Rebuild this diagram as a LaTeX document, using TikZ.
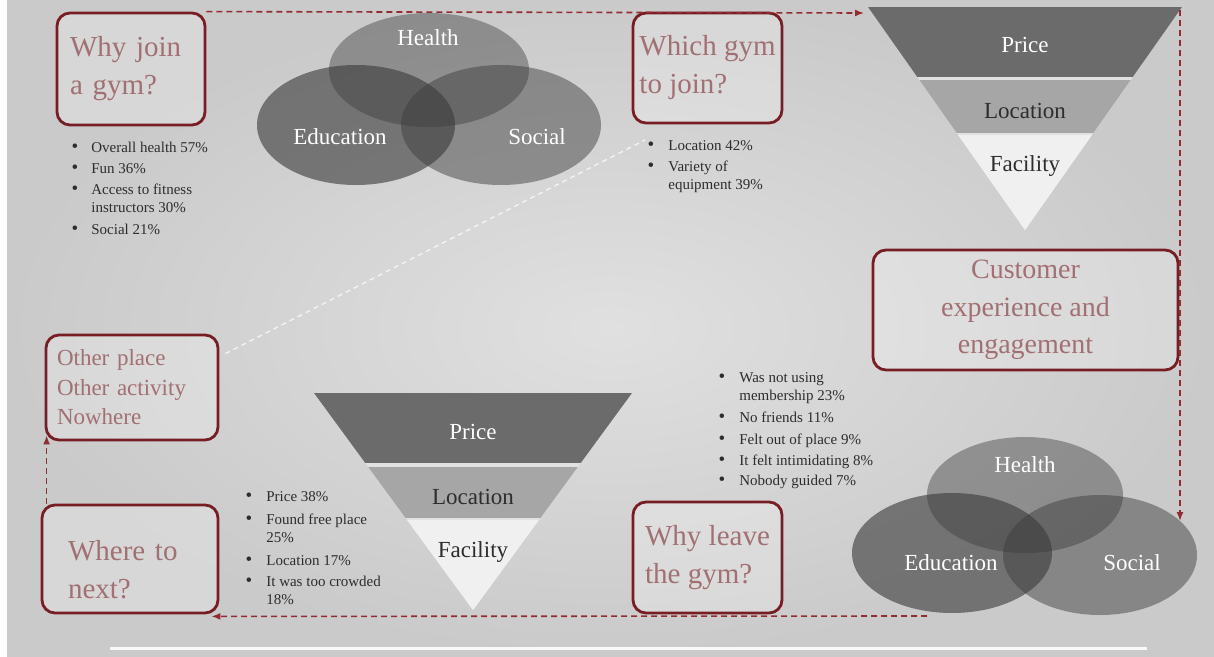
\documentclass[tikz,border=0pt]{standalone}
\usepackage{fontspec}
\setmainfont{Liberation Serif}
\usetikzlibrary{arrows.meta,calc}
\definecolor{boxred}{RGB}{118,30,36}
\definecolor{titlecol}{RGB}{162,112,114}
\definecolor{dashred}{RGB}{145,45,50}
\definecolor{bandA}{RGB}{107,107,107}
\definecolor{bandB}{RGB}{166,166,166}
\definecolor{bandC}{RGB}{240,240,240}
\definecolor{bandgap}{RGB}{225,225,225}
\definecolor{vennc}{RGB}{60,60,60}
\definecolor{bgin}{RGB}{224,224,224}
\definecolor{bgout}{RGB}{202,202,202}
\definecolor{txtdark}{RGB}{45,45,45}
\newcommand{\bdot}{{\fontsize{19}{18}\selectfont\textbullet}}
\begin{document}
\begin{tikzpicture}[x=1pt,y=-1pt,
  qbox/.style={draw=boxred, line width=2.8pt, rounded corners=13pt, fill=white, fill opacity=0.25, text opacity=1, text=titlecol, inner sep=0pt, align=left, font=\fontsize{29}{38}\selectfont},
  blist/.style={anchor=north west, inner sep=0pt, text=txtdark, font=\fontsize{15}{18}\selectfont},
  fnlabel/.style={font=\fontsize{23}{26}\selectfont, inner sep=0pt},
  vnlabel/.style={font=\fontsize{23}{26}\selectfont, inner sep=0pt, text=white},
  flow/.style={draw=dashred, line width=1.6pt, dash pattern=on 6pt off 4pt, -{Latex[length=9pt,width=7pt]}},
  faint/.style={draw=white, draw opacity=0.7, line width=1.4pt, dash pattern=on 5pt off 4pt}
]
\useasboundingbox (0,0) rectangle (1214,656);
\fill[white] (0,0) rectangle (1214,656);
\shade[inner color=bgin, outer color=bgout] (7,0) rectangle (1214,656);
\draw[white, line width=3pt, opacity=0.9] (110,648) -- (1147,648);

% ---- top Venn ----
\fill[vennc, fill opacity=0.43] (429,70) ellipse [x radius=100, y radius=57];
\fill[vennc, fill opacity=0.62] (356,125) ellipse [x radius=99, y radius=60];
\fill[vennc, fill opacity=0.48] (501,125) ellipse [x radius=100, y radius=60];
\node[vnlabel] (vh1) at (428,38) {Health};
\node[vnlabel] (ve1) at (340,137) {Education};
\node[vnlabel] (vs1) at (537,137) {Social};

% ---- bottom-right Venn ----
\fill[vennc, fill opacity=0.43] (1025,495) ellipse [x radius=98, y radius=58];
\fill[vennc, fill opacity=0.62] (952,553) ellipse [x radius=100, y radius=60];
\fill[vennc, fill opacity=0.48] (1100,555) ellipse [x radius=97, y radius=60];
\node[vnlabel] (vh2) at (1025,465) {Health};
\node[vnlabel] (ve2) at (951,563) {Education};
\node[vnlabel] (vs2) at (1132,563) {Social};

% ---- top funnel ----
\begin{scope}
\clip (868,7) -- (1182,7) -- (1025,230) -- cycle;
\fill[bandgap] (860,0) rectangle (1190,235);
\fill[bandA] (860,7) rectangle (1190,77);
\fill[bandB] (860,80) rectangle (1190,133);
\fill[bandC] (860,135) rectangle (1190,235);
\end{scope}
\node[fnlabel, text=white] (fp1) at (1025,45) {Price};
\node[fnlabel, text=txtdark] (fl1) at (1025,111) {Location};
\node[fnlabel, text=txtdark] (ff1) at (1025,166) {Facility};

% ---- bottom funnel ----
\begin{scope}
\clip (314,393) -- (632,393) -- (473,610) -- cycle;
\fill[bandgap] (300,385) rectangle (640,615);
\fill[bandA] (300,393) rectangle (640,463);
\fill[bandB] (300,467) rectangle (640,518);
\fill[bandC] (300,520) rectangle (640,615);
\end{scope}
\node[fnlabel, text=white] (fp2) at (473,432) {Price};
\node[fnlabel, text=txtdark] (fl2) at (473,497) {Location};
\node[fnlabel, text=txtdark] (ff2) at (473,552) {Facility};

% ---- faint diagonal ----
\coordinate (fa) at (645,140);
\node[qbox, minimum width=172pt, minimum height=105pt, text width=150pt, font=\fontsize{23}{29.5}\selectfont] (F) at (132,387.5) {Other place\\Other activity\\Nowhere};
\draw[faint] ($(F.north east)+(6,20)$) -- (fa);

% ---- question boxes ----
\node[qbox, minimum width=148pt, minimum height=112pt, text width=122pt] (A) at (131,69) {Why join\\a gym?};
\node[qbox, minimum width=149pt, minimum height=110pt] (B) at (707.5,68) {Which gym\\to join?};
\node[qbox, minimum width=305pt, minimum height=120pt, align=center, font=\fontsize{28}{37.5}\selectfont] (C) at (1025.5,310) {Customer\\experience and\\engagement};
\node[qbox, minimum width=149pt, minimum height=111pt] (D) at (707.5,557.5) {Why leave\\the gym?};
\node[qbox, minimum width=176pt, minimum height=108pt, text width=124pt, text height=42pt] (E) at (130,559) {Where to\\next?};

% ---- bullet lists ----
\node[blist] (L1) at (71.5,139.5) {\begin{tabular}{@{}c@{\hspace{13pt}}l@{}}
\bdot & Overall health 57\%\\[3pt]
\bdot & Fun 36\%\\[3pt]
\bdot & Access to fitness\\
 & instructors 30\%\\[4pt]
\bdot & Social 21\%
\end{tabular}};
\node[blist] (L2) at (647.5,137.5) {\begin{tabular}{@{}c@{\hspace{14pt}}l@{}}
\bdot & Location 42\%\\[3pt]
\bdot & Variety of\\
 & equipment 39\%
\end{tabular}};
\node[blist] (L3) at (245.5,488.5) {\begin{tabular}{@{}c@{\hspace{14pt}}l@{}}
\bdot & Price 38\%\\[5pt]
\bdot & Found free place\\
 & 25\%\\[5pt]
\bdot & Location 17\%\\[3pt]
\bdot & It was too crowded\\
 & 18\%
\end{tabular}};
\node[blist] (L4) at (718.5,369.5) {\begin{tabular}{@{}c@{\hspace{14pt}}l@{}}
\bdot & Was not using\\
 & membership 23\%\\[4pt]
\bdot & No friends 11\%\\[4pt]
\bdot & Felt out of place 9\%\\[3pt]
\bdot & It felt intimidating 8\%\\[2pt]
\bdot & Nobody guided 7\%
\end{tabular}};

% ---- flow connectors ----
\coordinate (ftl) at (864,13);
\coordinate (ftr) at (1180,10);
\coordinate (vr) at (1180,521);
\coordinate (vb) at (927,616);
\draw[flow] (A.north east) -- (ftl);
\draw[flow] (ftr) -- (vr);
\draw[flow] (vb) -- ($(E.south east)+(-8,2)$);
\draw[flow] ($(E.north west)+(6,0)$) -- ($(F.south west)+(2,-6)$);
\end{tikzpicture}
\end{document}
